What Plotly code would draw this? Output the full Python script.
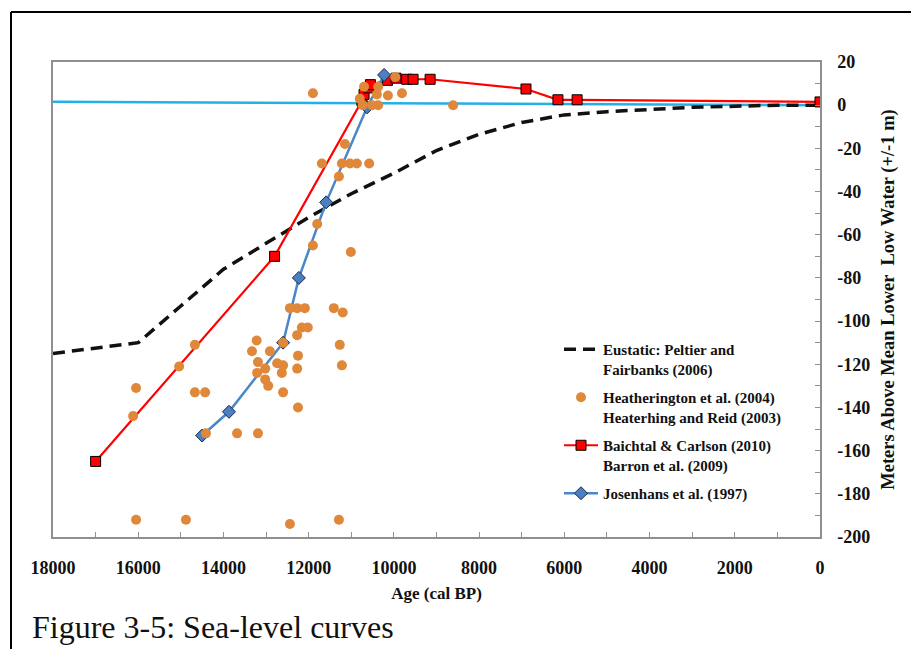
import plotly.graph_objects as go

# ---------------- data ----------------
eustatic_age = [18000, 16000, 15000, 14000, 13000, 12000, 11000, 10000, 9000,
                8000, 7000, 6000, 5000, 4000, 3000, 2000, 1000, 0]
eustatic_m = [-115, -110, -93, -76, -64, -52, -41, -31.5, -21,
              -13.5, -8, -4.5, -3, -2, -1, -0.5, 0, 0]

heath_age = [11900, 10700, 10370, 10400, 9970, 9810, 10140, 10730, 10510, 10370,
             10800, 8610,
             11150, 11690, 11220, 11030, 10870, 10580, 11290, 11800, 11900, 11010,
             12440, 12270, 12090, 11410, 11200,
             12160, 12020, 12270,
             13220, 12600, 11270, 14670,
             13330, 12910, 12250,
             13190, 12740, 12600, 11220, 15040,
             12270, 13020, 13210, 12630, 13020, 12950,
             16050, 12600, 14670, 14430,
             12250, 16120,
             14410, 13680, 13190,
             16050, 14880, 12440, 11290]
heath_m = [5.5, 8.5, 8.5, 5, 13, 5.5, 4.5, 0, 0, 0,
           3, 0,
           -18, -27, -27, -27, -27, -27, -33, -55, -65, -68,
           -94, -94, -94, -94, -96,
           -103, -103, -106.5,
           -109, -110, -111, -111,
           -114, -114, -116,
           -119, -119.5, -120.5, -120.5, -121,
           -122, -122, -124, -124, -127, -130,
           -131, -133, -133, -133,
           -140, -144,
           -152, -152, -152,
           -192, -192, -194, -192]

baichtal_age = [17000, 12800, 10750, 10700, 10600, 10550, 10150, 9950, 9700,
                9550, 9150, 6900, 6150, 5700, 0]
baichtal_m = [-165, -70, 2, 5, 8, 9.5, 11.5, 12.5, 12, 12, 12, 7.5, 2.5, 2.5, 1.5]

josenhans_age = [14500, 13870, 12600, 12230, 11590, 10630, 10230]
josenhans_m = [-153, -142, -110, -80, -45, -1, 14]

mllw_age = [18000, 0]
mllw_m = [1.6, 0.0]

x_ticks = [18000, 16000, 14000, 12000, 10000, 8000, 6000, 4000, 2000, 0]
y_ticks = [20, 0, -20, -40, -60, -80, -100, -120, -140, -160, -180, -200]

# ---------------- figure ----------------
OFF = 8  # default page margin of the html body
W, H = 919, 649
# plot area wanted on the page: x 53..820, y 62..537
ML = 53 - OFF
MT = 62 - OFF
MR = W - (820 - OFF)
MB = H - (537 - OFF)
PW, PH = W - ML - MR, H - MT - MB

def px_x(p):
    return (p - OFF - ML) / PW

def px_y(p):
    return (H - MB - (p - OFF)) / PH

serif = "Liberation Serif"
fig = go.Figure()

fig.add_trace(go.Scatter(x=mllw_age, y=mllw_m, mode="lines",
                         line=dict(color="#23b0e6", width=2.5),
                         showlegend=False, hoverinfo="skip"))
fig.add_trace(go.Scatter(x=eustatic_age, y=eustatic_m, mode="lines",
                         name="Eustatic: Peltier and<br>Fairbanks (2006)",
                         legendgroup="a", legendrank=1,
                         line=dict(color="#111111", width=3.5, dash="12px,7px")))
fig.add_trace(go.Scatter(x=baichtal_age, y=baichtal_m, mode="lines+markers",
                         name="Baichtal & Carlson (2010)<br>Barron et al. (2009)",
                         legendgroup="c", legendrank=3,
                         line=dict(color="#ff0000", width=2.2),
                         marker=dict(symbol="square", size=10, color="#ff0000",
                                     line=dict(color="#000000", width=1))))
fig.add_trace(go.Scatter(x=josenhans_age, y=josenhans_m, mode="lines+markers",
                         name="Josenhans et al. (1997)",
                         legendgroup="d", legendrank=4,
                         line=dict(color="#4a86c8", width=2.5),
                         marker=dict(symbol="diamond", size=10, color="#4a80c2",
                                     line=dict(color="#1b2a44", width=1))))
fig.add_trace(go.Scatter(x=heath_age, y=heath_m, mode="markers",
                         name="Heatherington et al. (2004)<br>Heaterhing and Reid (2003)",
                         legendgroup="b", legendrank=2,
                         marker=dict(symbol="circle", size=10, color="#e0883a")))

axis_common = dict(showline=True, linecolor="#8f8f8f", linewidth=1.5, mirror=True,
                   ticks="inside", ticklen=5, tickcolor="#8f8f8f", tickwidth=1,
                   showgrid=False, zeroline=False,
                   tickfont=dict(family=serif, size=18, color="#111111", weight="bold"))

fig.update_layout(
    width=W, height=H,
    margin=dict(l=ML, r=MR, t=MT, b=MB, autoexpand=False),
    paper_bgcolor="white", plot_bgcolor="white",
    xaxis=dict(range=[18000, 0], tickvals=x_ticks, ticktext=[str(v) for v in x_ticks],
               ticklabelstandoff=14,
               minor=dict(dtick=1000, tick0=0, ticks="inside", ticklen=5,
                          tickcolor="#8f8f8f", showgrid=False),
               title=dict(text="Age (cal BP)", standoff=10,
                          font=dict(family=serif, size=17, color="#111111", weight="bold")),
               **axis_common),
    yaxis=dict(range=[-200, 20], tickvals=y_ticks, ticktext=[str(v) for v in y_ticks],
               side="right", ticklabelstandoff=12,
               minor=dict(dtick=10, tick0=0, ticks="inside", ticklen=5,
                          tickcolor="#8f8f8f", showgrid=False),
               title=dict(text="Meters Above Mean Lower  Low Water (+/-1 m)", standoff=12,
                          font=dict(family=serif, size=18.5, color="#111111", weight="bold")),
               **axis_common),
    legend=dict(x=px_x(559), y=px_y(333), xanchor="left", yanchor="top",
                bgcolor="rgba(0,0,0,0)", borderwidth=0, valign="top",
                itemwidth=34,
                traceorder="grouped", tracegroupgap=6,
                font=dict(family=serif, size=15, color="#111111", weight="bold")),
    showlegend=True,
)

# outer figure frame and caption
fig.add_shape(type="line", xref="paper", yref="paper",
              x0=px_x(11), x1=px_x(930), y0=px_y(12), y1=px_y(12),
              line=dict(color="black", width=2))
fig.add_shape(type="line", xref="paper", yref="paper",
              x0=px_x(11), x1=px_x(11), y0=px_y(12), y1=px_y(660),
              line=dict(color="black", width=2))
fig.add_annotation(text="Figure 3-5: Sea-level curves", xref="paper", yref="paper",
                   x=px_x(30), y=px_y(627), xanchor="left", yanchor="middle",
                   showarrow=False,
                   font=dict(family=serif, size=32, color="#111111"))

fig.write_html("out.html")
